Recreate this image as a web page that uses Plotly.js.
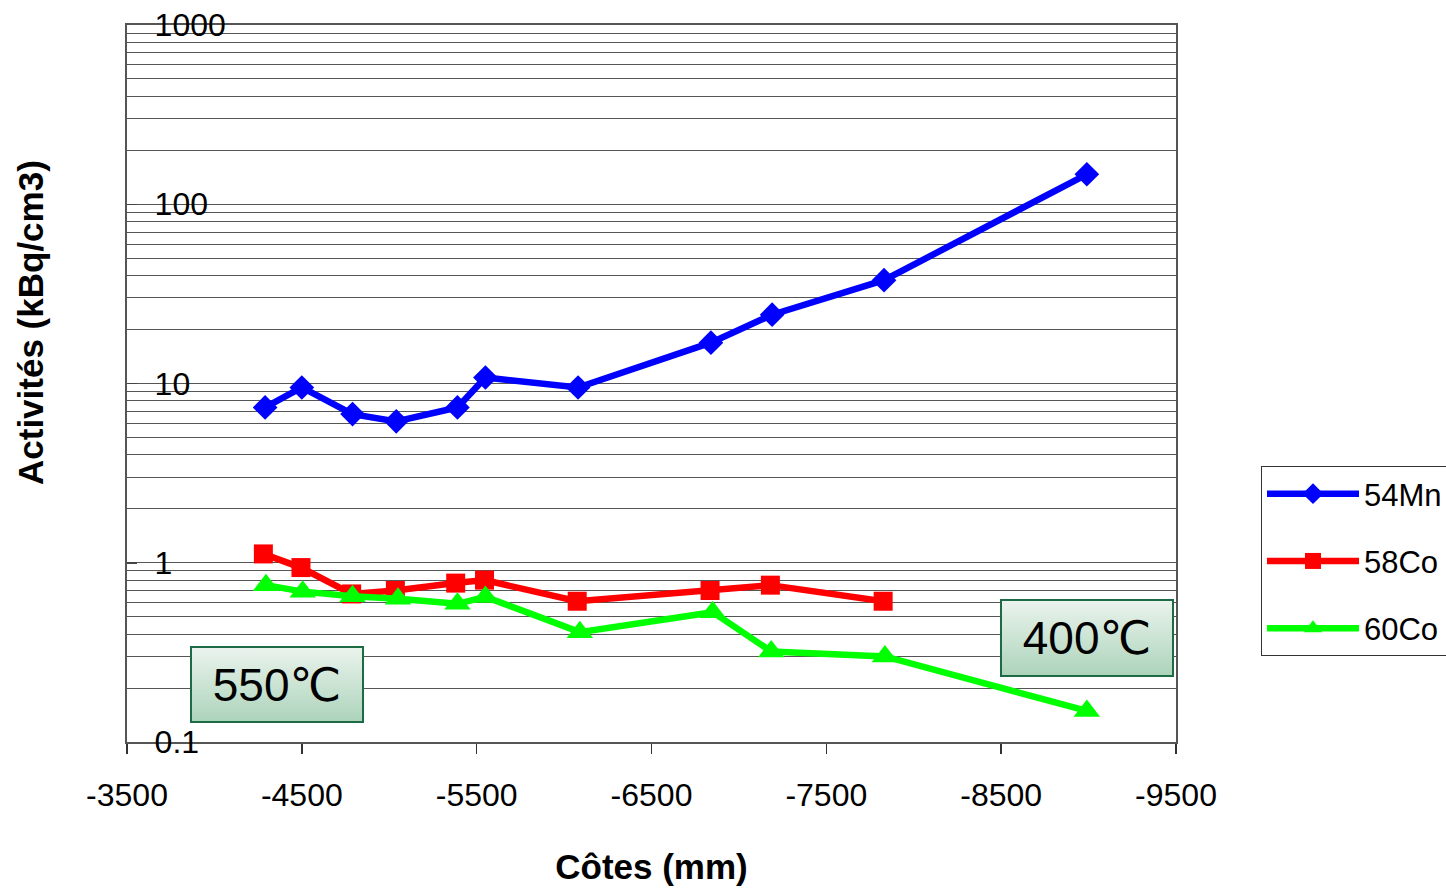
<!DOCTYPE html>
<html>
<head>
<meta charset="utf-8">
<script src="https://cdn.plot.ly/plotly-3.0.1.min.js"></script>
<style>html,body{margin:0;padding:0;background:#fff;}</style>
</head>
<body>
<div id="chart" style="width:1446px;height:888px;"></div>
<script>
// ---- data ----
const mnX = [-4290, -4500, -4790, -5040, -5390, -5550, -6080, -6840, -7190, -7830, -8990];
const mnY = [7.35, 9.5, 6.75, 6.15, 7.35, 10.8, 9.5, 16.9, 24.2, 37.7, 147];
const co58X = [-4280, -4495, -4785, -5035, -5380, -5545, -6075, -6835, -7180, -7825];
const co58Y = [1.12, 0.94, 0.67, 0.70, 0.77, 0.80, 0.61, 0.70, 0.75, 0.61];
const co60X = [-4295, -4505, -4790, -5050, -5390, -5550, -6090, -6850, -7185, -7835, -8990];
const co60Y = [0.75, 0.69, 0.65, 0.63, 0.59, 0.645, 0.41, 0.53, 0.32, 0.30, 0.149];
const seriesNames = ['54Mn', '58Co', '60Co'];
const xTickVals = [-3500, -4500, -5500, -6500, -7500, -8500, -9500];
const xTickText = ['-3500', '-4500', '-5500', '-6500', '-7500', '-8500', '-9500'];
const yTickVals = [0.1, 1, 10, 100, 1000];
const yTickText = ['0.1', '1', '10', '100', '1000'];
const tempLabels = ['550\u2103', '400\u2103'];

// ---- helpers ----
const FONT = 'Liberation Sans, Arial, DejaVu Sans, sans-serif';
const L = 127, R = 1176, T = 25, B = 742, W = 1446, H = 888;
const px = x => (x - L) / (R - L);
const py = y => (B - y) / (B - T);

const minorVals = [];
for (let e = -1; e < 3; e++) for (let m = 2; m <= 9; m++) minorVals.push(m * Math.pow(10, e));

const grad = 'data:image/svg+xml;charset=utf-8,' + encodeURIComponent(
  "<svg xmlns='http://www.w3.org/2000/svg' width='174' height='78' preserveAspectRatio='none'>" +
  "<defs><linearGradient id='g' x1='0' y1='0' x2='0' y2='1'>" +
  "<stop offset='0' stop-color='#ecf4ee'/><stop offset='1' stop-color='#abd3ba'/>" +
  "</linearGradient></defs><rect width='174' height='78' fill='url(#g)'/></svg>");

const traces = [
  {x: mnX, y: mnY, name: seriesNames[0], legendgroup: 'a', mode: 'lines+markers',
   line: {color: '#0000FF', width: 6.5}, marker: {symbol: 'diamond', size: 19, color: '#0000FF'}},
  {x: co58X, y: co58Y, name: seriesNames[1], legendgroup: 'b', mode: 'lines+markers',
   line: {color: '#FF0000', width: 6.5}, marker: {symbol: 'square', size: 19, color: '#FF0000'}},
  {x: co60X, y: co60Y, name: seriesNames[2], legendgroup: 'c', mode: 'lines+markers',
   line: {color: '#00FF00', width: 6.5}, marker: {symbol: 'triangle-up', size: 23, color: '#00FF00'}}
];

const layout = {
  width: W, height: H,
  margin: {l: L, r: W - R, t: T, b: H - B, autoexpand: false},
  paper_bgcolor: '#ffffff', plot_bgcolor: '#ffffff',
  font: {family: FONT, size: 32, color: '#000'},
  showlegend: true,
  legend: {
    x: px(1261), y: py(466), xanchor: 'left', yanchor: 'top',
    bordercolor: '#333', borderwidth: 1, bgcolor: '#fff',
    font: {family: FONT, size: 31, color: '#000'},
    traceorder: 'grouped', tracegroupgap: 24, itemwidth: 92
  },
  xaxis: {
    range: [-3500, -9500], tickmode: 'array', tickvals: xTickVals, ticktext: xTickText,
    showgrid: false, zeroline: false,
    showline: true, linecolor: '#555', linewidth: 2, mirror: true,
    ticks: 'outside', ticklen: 10, tickwidth: 1.5, tickcolor: '#333',
    ticklabelstandoff: 14,
    tickfont: {family: FONT, size: 32, color: '#000'},
    title: {text: 'Côtes (mm)', font: {family: FONT, size: 35, color: '#000', weight: 'bold'}, standoff: 42}
  },
  yaxis: {
    type: 'log', range: [-1, 3], tickmode: 'array', tickvals: yTickVals, ticktext: yTickText,
    showgrid: true, gridcolor: '#555', gridwidth: 1, zeroline: false,
    showline: true, linecolor: '#555', linewidth: 2, mirror: true,
    ticks: 'inside', ticklen: 10, tickwidth: 1.5, tickcolor: '#444',
    ticklabelposition: 'inside', ticklabeloverflow: 'allow', ticklabelstandoff: 21,
    tickfont: {family: FONT, size: 32, color: '#000'},
    minor: {tickmode: 'array', tickvals: minorVals, showgrid: true, gridcolor: '#555', gridwidth: 1, ticks: ''}
  },
  images: [
    {source: grad, xref: 'paper', yref: 'paper', x: px(190), y: py(646), sizex: 174 / (R - L), sizey: 77 / (B - T),
     xanchor: 'left', yanchor: 'top', sizing: 'stretch', layer: 'above'},
    {source: grad, xref: 'paper', yref: 'paper', x: px(1000), y: py(599), sizex: 174 / (R - L), sizey: 78 / (B - T),
     xanchor: 'left', yanchor: 'top', sizing: 'stretch', layer: 'above'}
  ],
  annotations: [
    {text: tempLabels[0], xref: 'paper', yref: 'paper', x: px(277), y: py(684.5), showarrow: false,
     xanchor: 'center', yanchor: 'middle',
     width: 170, height: 73, bordercolor: '#1d6b45', borderwidth: 2, borderpad: 0,
     font: {family: FONT, size: 46, color: '#000'}},
    {text: tempLabels[1], xref: 'paper', yref: 'paper', x: px(1087), y: py(638), showarrow: false,
     xanchor: 'center', yanchor: 'middle',
     width: 170, height: 74, bordercolor: '#1d6b45', borderwidth: 2, borderpad: 0,
     font: {family: FONT, size: 46, color: '#000'}},
    {text: 'Activités (kBq/cm3)', xref: 'paper', yref: 'paper', x: px(30), y: py(323), showarrow: false,
     xanchor: 'center', yanchor: 'middle',
     textangle: -90, font: {family: FONT, size: 35, color: '#000', weight: 'bold'}}
  ]
};

Plotly.newPlot('chart', traces, layout, {displayModeBar: false, staticPlot: true});
</script>
</body>
</html>
